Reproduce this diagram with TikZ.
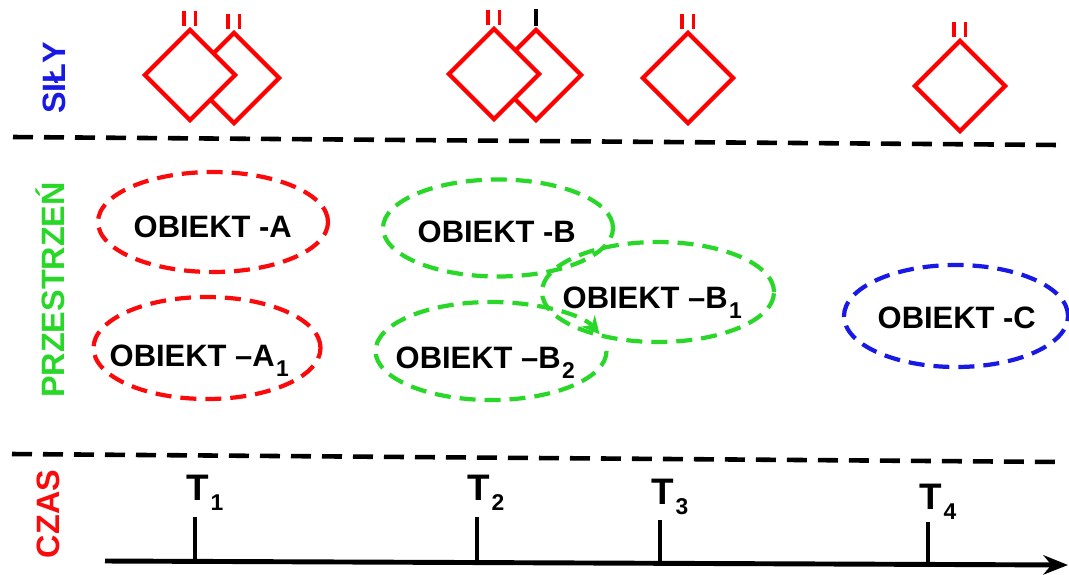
\documentclass[tikz,border=0pt]{standalone}
\usepackage{fontspec}
\setmainfont{Liberation Sans}
\usepackage{tikz}
\usetikzlibrary{shapes.geometric,arrows.meta,calc}
\usepackage{xcolor}
\definecolor{silyblue}{RGB}{25,25,230}
\definecolor{przgreen}{RGB}{40,215,40}
\definecolor{czasred}{RGB}{250,10,10}
\newcommand{\idx}[1]{\kern0.4pt\raisebox{-3pt}{\fontsize{6.5}{7}\selectfont #1}}

\begin{document}
\begin{tikzpicture}[
    font=\fontsize{8.8}{10}\selectfont\bfseries,
    sep/.style={black, line width=1.3pt, dash pattern=on 0.2cm off 0.11cm},
    force/.style={diamond, draw=red, fill=white, line width=1.2pt, minimum width=0.92cm, minimum height=0.92cm, inner sep=0pt},
    pin/.style={red, line width=0.9pt},
    obj/.style={ellipse, draw=#1, line width=1.2pt, dash pattern=on 0.16cm off 0.09cm, minimum width=2.3cm, minimum height=1cm, inner sep=0pt},
    objtext/.style={anchor=base west, inner sep=0pt},
    side/.style={rotate=90, font=\fontsize{9.2}{10}\selectfont\bfseries},
    tick/.style={black, line width=1.1pt}
]
        \useasboundingbox (0,0) rectangle (10.69,5.74);
        \draw[sep] (0.13,4.37) -- (10.58,4.29);
        \draw[sep] (0.12,1.20) -- (10.62,1.12);
        \node[side, silyblue] (sily) at (0.54,4.96) {SIŁY};
        \node[side, przgreen] (przestrzen) at (0.50,2.84) {PRZESTRZEŃ};
        \node[side, czasred] (czas) at (0.48,0.60) {CZAS};
        \node[force] (d1b) at (2.34,4.96) {};
        \node[force] (d1a) at (1.90,4.99) {};
        \node[force] (d2b) at (5.36,4.99) {};
        \node[force] (d2a) at (4.94,5.00) {};
        \node[force] (d3) at (6.88,4.96) {};
        \node[force] (d4) at (9.60,4.88) {};
        \foreach \n in {d1a,d1b,d2a,d3,d4} {
            \draw[pin] ([xshift=-0.06cm,yshift=0.01cm]\n.north) -- ++(0,0.15);
            \draw[pin] ([xshift=0.055cm,yshift=0.01cm]\n.north) -- ++(0,0.15);
        }
        \draw[pin, black] ([yshift=0.01cm]d2b.north) -- ++(0,0.17);
        \node[obj=czasred] (a) at (2.13,3.52) {};
        \node[obj=czasred, minimum width=2.27cm, minimum height=1.02cm] (a1) at (2.07,2.26) {};
        \node[obj=przgreen, minimum height=0.97cm] (b) at (4.98,3.46) {};
        \node[obj=przgreen, minimum width=2.32cm] (b1) at (6.58,2.82) {};
        \node[obj=przgreen, draw=none, minimum width=2.31cm, minimum height=0.98cm] (b2) at (4.91,2.23) {};
        \draw[przgreen, line width=1.2pt, dash pattern=on 0.16cm off 0.09cm, -{Stealth[length=5pt,width=5pt]}] (b2.center) ++(0:1.155 and 0.49) arc[start angle=0, end angle=-340, x radius=1.155, y radius=0.49];
        \node[obj=silyblue, minimum width=2.24cm, minimum height=1.02cm] (c) at (9.56,2.58) {};
        \node[objtext] (ta) at (1.33,3.37) {OBIEKT -A};
        \node[objtext] (ta1) at (1.09,2.08) {OBIEKT --A\idx{1}};
        \node[objtext] (tb) at (4.17,3.32) {OBIEKT -B};
        \node[objtext] (tb1) at (5.62,2.66) {OBIEKT --B\idx{1}};
        \node[objtext] (tb2) at (3.95,2.06) {OBIEKT --B\idx{2}};
        \node[objtext] (tc) at (8.77,2.46) {OBIEKT -C};
        \coordinate (ax0) at (1.05,0.13);
        \coordinate (ax1) at (10.68,0.09);
        \draw[black, line width=1.4pt, -{Stealth[length=7pt,width=5.5pt]}] (ax0) -- (ax1);
        \coordinate (t1) at (1.95,0.126);
        \coordinate (t2) at (4.77,0.115);
        \coordinate (t3) at (6.60,0.107);
        \coordinate (t4) at (9.28,0.096);
        \draw[tick] (t1) -- ++(0,0.445);
        \draw[tick] (t2) -- ++(0,0.455);
        \draw[tick] (t3) -- ++(0,0.43);
        \draw[tick] (t4) -- ++(0,0.42);
        \node[objtext, font=\fontsize{10.5}{12}\selectfont\bfseries] (l1) at (1.86,0.74) {T\idx{1}};
        \node[objtext, font=\fontsize{10.5}{12}\selectfont\bfseries] (l2) at (4.67,0.74) {T\idx{2}};
        \node[objtext, font=\fontsize{10.5}{12}\selectfont\bfseries] (l3) at (6.51,0.70) {T\idx{3}};
        \node[objtext, font=\fontsize{10.5}{12}\selectfont\bfseries] (l4) at (9.19,0.65) {T\idx{4}};
\end{tikzpicture}
\end{document}
